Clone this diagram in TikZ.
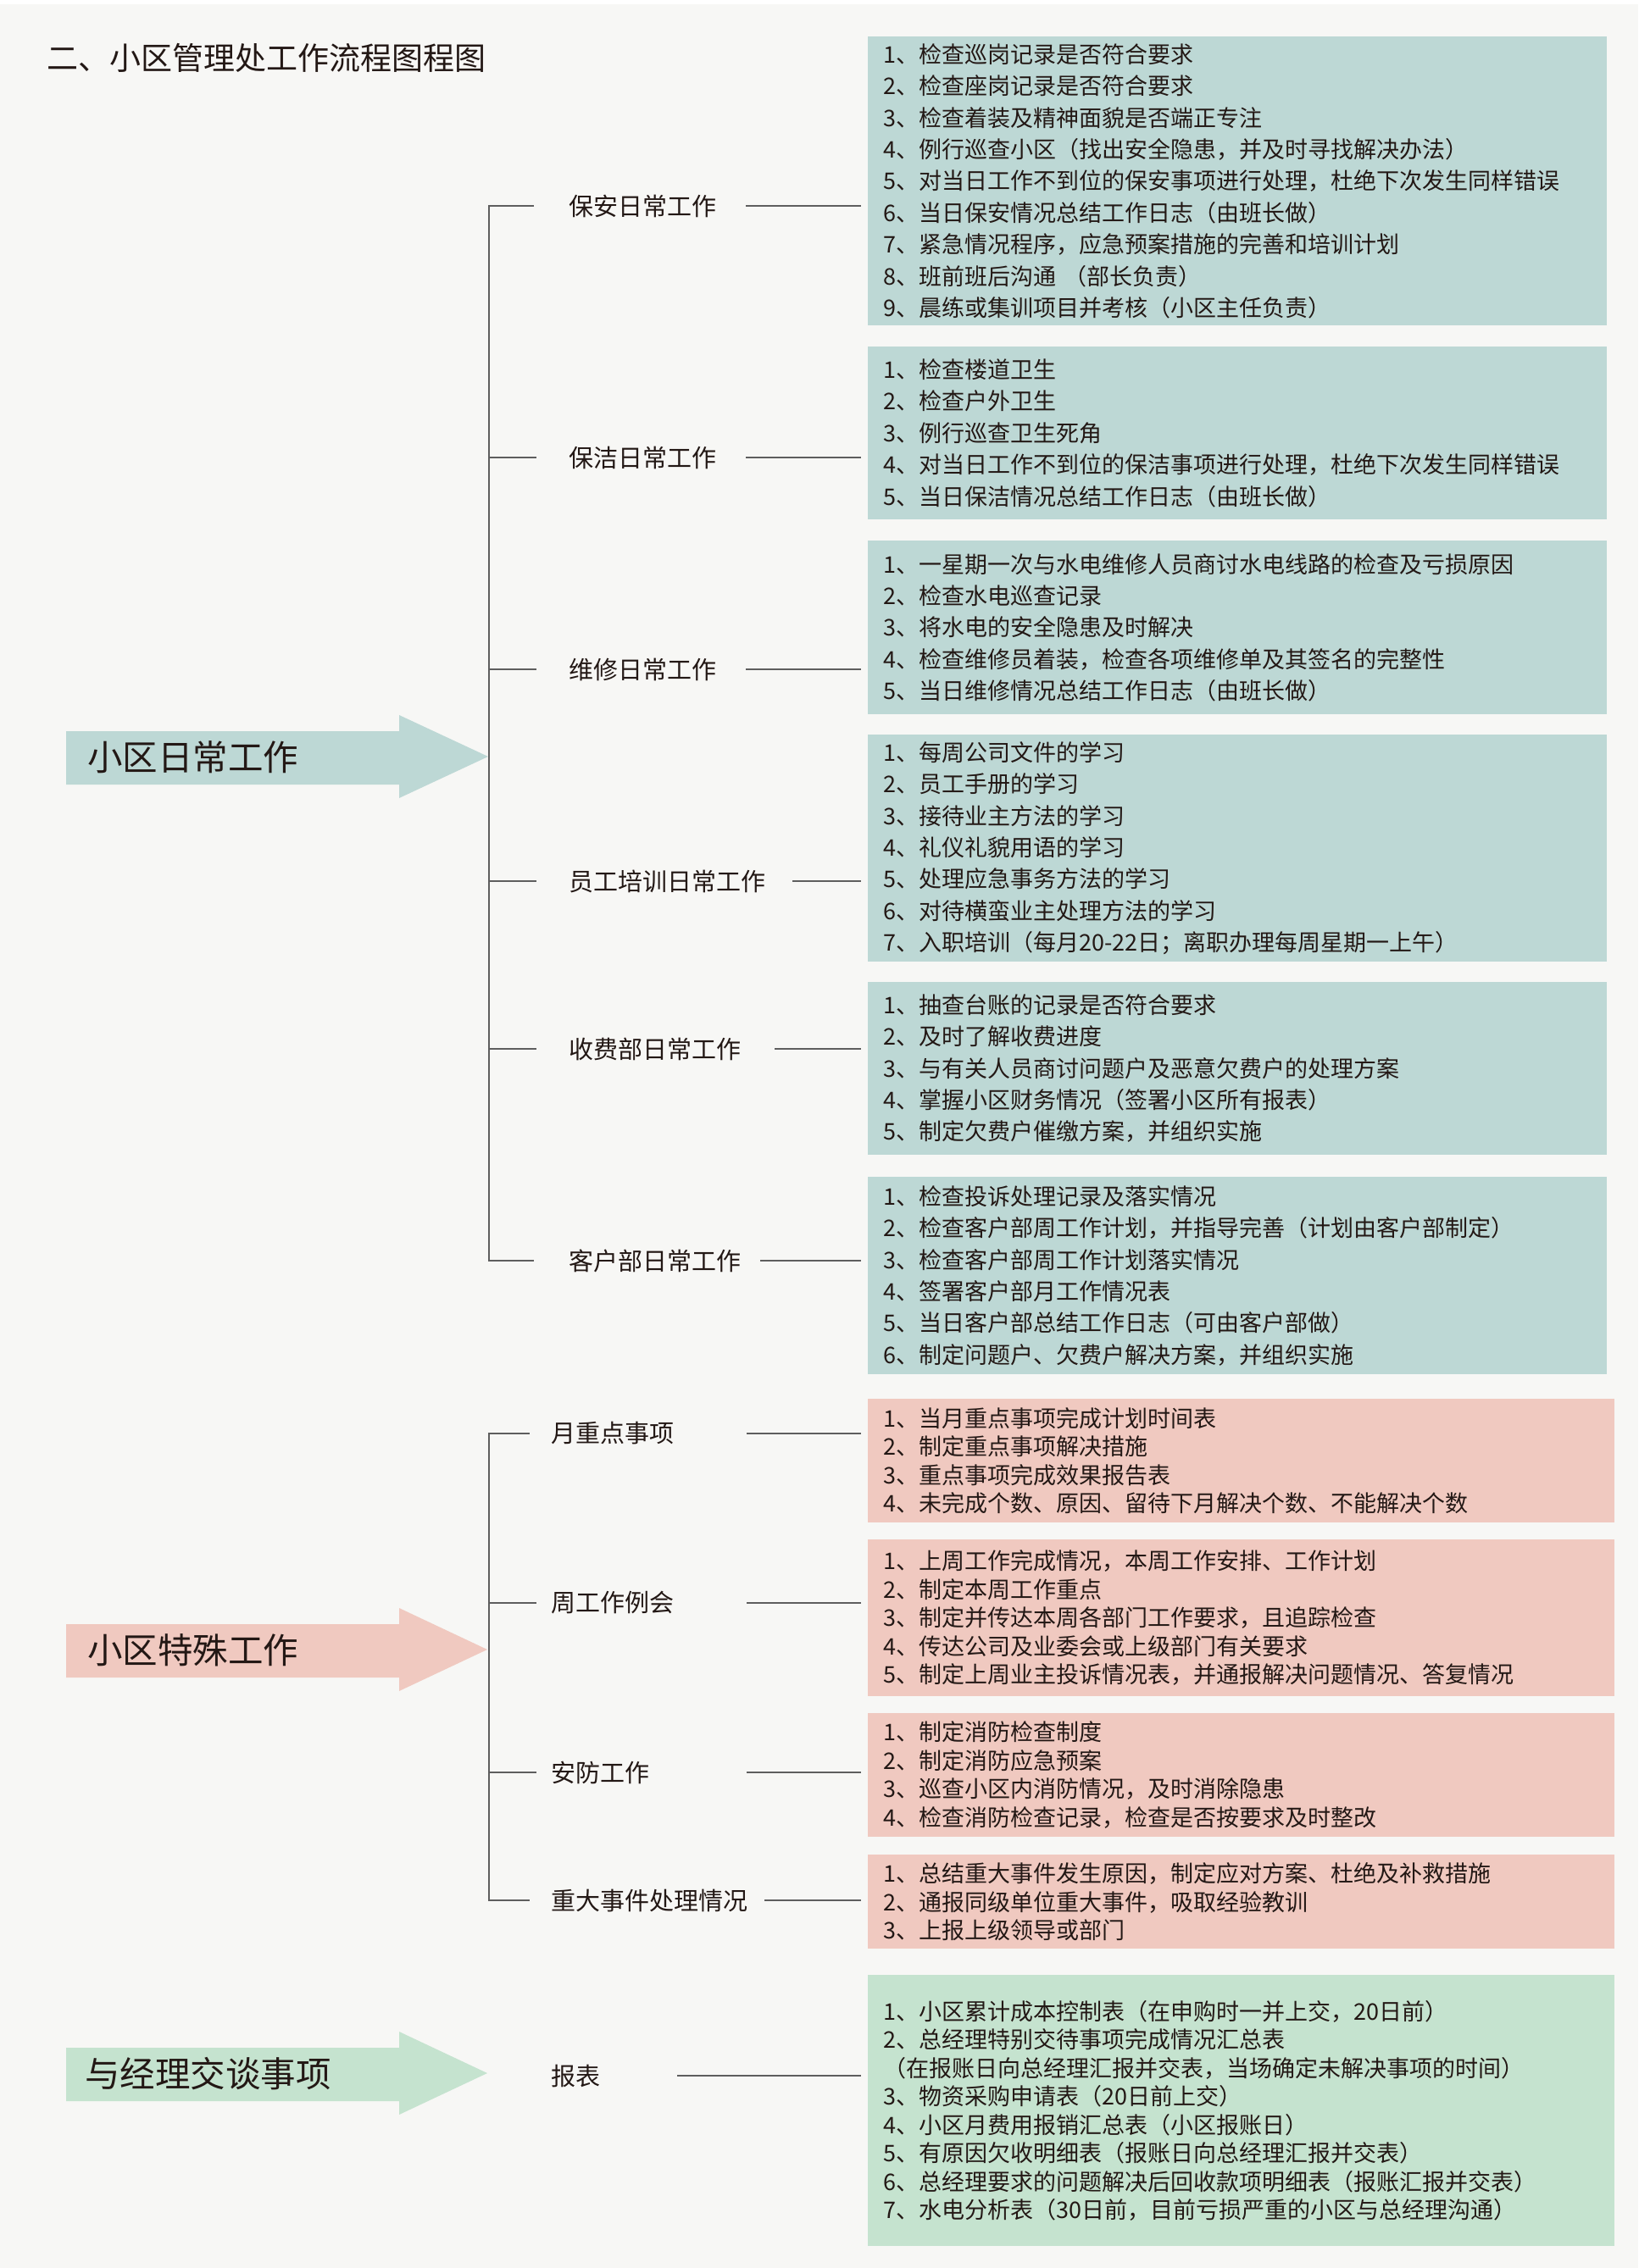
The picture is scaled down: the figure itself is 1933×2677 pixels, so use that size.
\documentclass[tikz,border=0pt]{standalone}
\usepackage{fontspec}
\setmainfont{Noto Sans CJK SC}
\definecolor{pagegray}{HTML}{F7F7F5}
\definecolor{tealbox}{HTML}{BDD8D5}
\definecolor{pinkbox}{HTML}{F0C9C0}
\definecolor{greenbox}{HTML}{C5E3CF}
\definecolor{inkdark}{HTML}{231815}
\definecolor{linegray}{HTML}{5E5E5E}
\lineskiplimit=-50pt
\tikzset{
	itembox/.style={anchor=north west, inner xsep=18pt, inner ysep=0pt, text width=836pt, align=left, minimum height=#1, fill=tealbox, text=inkdark, font=\fontsize{27}{37.4}\selectfont},
	pinkitems/.style={itembox=#1, text width=845pt, fill=pinkbox, font=\fontsize{27}{33.5}\selectfont},
	greenitems/.style={pinkitems=#1, fill=greenbox},
	tasklabel/.style={anchor=west, inner sep=0pt, text=inkdark, font=\fontsize{29}{29}\selectfont},
	bigtext/.style={anchor=west, inner sep=0pt, text=inkdark, font=\fontsize{41.5}{41.5}\selectfont},
	spine/.style={line width=1.6pt, draw=linegray},
	link/.style={line width=1.4pt, draw=linegray, shorten >=8pt}
}
\begin{document}
\begin{tikzpicture}[x=1pt,y=-1pt]
			%%%%% START %%%%%
			
			\useasboundingbox (0,0) rectangle (1933,2677);
			\fill[white] (0,0) rectangle (1933,2677);
			\fill[pagegray] (0,5) rectangle (1933,2677);
			
			\node[anchor=west, inner sep=0pt, text=inkdark, font=\fontsize{37}{37}\selectfont] (title) at (55, 68) {二、小区管理处工作流程图程图};
			
			\fill[tealbox] (78,863) -- (471,863) -- (471,844) -- (576,893) -- (471,942) -- (471,926) -- (78,926) -- cycle;
			\node[bigtext] (daily) at (103, 894) {小区日常工作};
			
			\fill[pinkbox] (78,1917) -- (471,1917) -- (471,1898) -- (575,1947) -- (471,1996) -- (471,1980) -- (78,1980) -- cycle;
			\node[bigtext] (special) at (103, 1948) {小区特殊工作};
			
			\fill[greenbox] (78,2417) -- (471,2417) -- (471,2398) -- (575,2447) -- (471,2496) -- (471,2480) -- (78,2480) -- cycle;
			\node[bigtext] (manager) at (100, 2448) {与经理交谈事项};
			
			\node[itembox=341pt] (box1) at (1024, 43) {1、检查巡岗记录是否符合要求\\2、检查座岗记录是否符合要求\\3、检查着装及精神面貌是否端正专注\\4、例行巡查小区（找出安全隐患，并及时寻找解决办法）\\5、对当日工作不到位的保安事项进行处理，杜绝下次发生同样错误\\6、当日保安情况总结工作日志（由班长做）\\7、紧急情况程序，应急预案措施的完善和培训计划\\8、班前班后沟通\ （部长负责）\\9、晨练或集训项目并考核（小区主任负责）};
			\node[itembox=204pt] (box2) at (1024, 409) {1、检查楼道卫生\\2、检查户外卫生\\3、例行巡查卫生死角\\4、对当日工作不到位的保洁事项进行处理，杜绝下次发生同样错误\\5、当日保洁情况总结工作日志（由班长做）};
			\node[itembox=205pt] (box3) at (1024, 638) {1、一星期一次与水电维修人员商讨水电线路的检查及亏损原因\\2、检查水电巡查记录\\3、将水电的安全隐患及时解决\\4、检查维修员着装，检查各项维修单及其签名的完整性\\5、当日维修情况总结工作日志（由班长做）};
			\node[itembox=268pt] (box4) at (1024, 867) {1、每周公司文件的学习\\2、员工手册的学习\\3、接待业主方法的学习\\4、礼仪礼貌用语的学习\\5、处理应急事务方法的学习\\6、对待横蛮业主处理方法的学习\\7、入职培训（每月20-22日；离职办理每周星期一上午）};
			\node[itembox=204pt] (box5) at (1024, 1159) {1、抽查台账的记录是否符合要求\\2、及时了解收费进度\\3、与有关人员商讨问题户及恶意欠费户的处理方案\\4、掌握小区财务情况（签署小区所有报表）\\5、制定欠费户催缴方案，并组织实施};
			\node[itembox=233pt] (box6) at (1024, 1389) {1、检查投诉处理记录及落实情况\\2、检查客户部周工作计划，并指导完善（计划由客户部制定）\\3、检查客户部周工作计划落实情况\\4、签署客户部月工作情况表\\5、当日客户部总结工作日志（可由客户部做）\\6、制定问题户、欠费户解决方案，并组织实施};
			
			\node[pinkitems=146pt] (box7) at (1024, 1651) {1、当月重点事项完成计划时间表\\2、制定重点事项解决措施\\3、重点事项完成效果报告表\\4、未完成个数、原因、留待下月解决个数、不能解决个数};
			\node[pinkitems=185pt] (box8) at (1024, 1817) {1、上周工作完成情况，本周工作安排、工作计划\\2、制定本周工作重点\\3、制定并传达本周各部门工作要求，且追踪检查\\4、传达公司及业委会或上级部门有关要求\\5、制定上周业主投诉情况表，并通报解决问题情况、答复情况};
			\node[pinkitems=146pt] (box9) at (1024, 2022) {1、制定消防检查制度\\2、制定消防应急预案\\3、巡查小区内消防情况，及时消除隐患\\4、检查消防检查记录，检查是否按要求及时整改};
			\node[pinkitems=111pt] (box10) at (1024, 2189) {1、总结重大事件发生原因，制定应对方案、杜绝及补救措施\\2、通报同级单位重大事件，吸取经验教训\\3、上报上级领导或部门};
			
			\node[greenitems=320pt] (box11) at (1024, 2331) {1、小区累计成本控制表（在申购时一并上交，20日前）\\2、总经理特别交待事项完成情况汇总表\\（在报账日向总经理汇报并交表，当场确定未解决事项的时间）\\3、物资采购申请表（20日前上交）\\4、小区月费用报销汇总表（小区报账日）\\5、有原因欠收明细表（报账日向总经理汇报并交表）\\6、总经理要求的问题解决后回收款项明细表（报账汇报并交表）\\7、水电分析表（30日前，目前亏损严重的小区与总经理沟通）};
			
			\node[tasklabel] (lab1) at (671, 243) {保安日常工作};
			\node[tasklabel] (lab2) at (671, 540) {保洁日常工作};
			\node[tasklabel] (lab3) at (671, 790) {维修日常工作};
			\node[tasklabel] (lab4) at (671, 1040) {员工培训日常工作};
			\node[tasklabel] (lab5) at (671, 1238) {收费部日常工作};
			\node[tasklabel] (lab6) at (671, 1488) {客户部日常工作};
			
			\node[tasklabel] (lab7) at (650, 1692) {月重点事项};
			\node[tasklabel] (lab8) at (650, 1892) {周工作例会};
			\node[tasklabel] (lab9) at (650, 2092) {安防工作};
			\node[tasklabel] (lab10) at (650, 2243) {重大事件处理情况};
			
			\node[tasklabel] (lab11) at (650, 2450) {报表};
			
			\coordinate (spineA) at (577, 893);
			\coordinate (spineB) at (577, 1947);
			
			\draw[spine, shorten <=41pt, shorten >=41pt] (lab1.west) -- (spineA |- lab1.west) -- (spineA |- lab6.west) -- (lab6.west);
			\draw[spine, shorten >=38pt] (spineA |- lab2.west) -- (lab2.west);
			\draw[spine, shorten >=38pt] (spineA |- lab3.west) -- (lab3.west);
			\draw[spine, shorten >=38pt] (spineA |- lab4.west) -- (lab4.west);
			\draw[spine, shorten >=38pt] (spineA |- lab5.west) -- (lab5.west);
			
			\draw[spine, shorten <=25pt, shorten >=25pt] (lab7.west) -- (spineB |- lab7.west) -- (spineB |- lab10.west) -- (lab10.west);
			\draw[spine, shorten >=17pt] (spineB |- lab8.west) -- (lab8.west);
			\draw[spine, shorten >=17pt] (spineB |- lab9.west) -- (lab9.west);
			
			\draw[link, shorten <=35pt] (lab1.east) -- (lab1.east -| box1.west);
			\draw[link, shorten <=35pt] (lab2.east) -- (lab2.east -| box2.west);
			\draw[link, shorten <=35pt] (lab3.east) -- (lab3.east -| box3.west);
			\draw[link, shorten <=32pt] (lab4.east) -- (lab4.east -| box4.west);
			\draw[link, shorten <=40pt] (lab5.east) -- (lab5.east -| box5.west);
			\draw[link, shorten <=23pt] (lab6.east) -- (lab6.east -| box6.west);
			
			\draw[link, shorten <=86pt] (lab7.east) -- (lab7.east -| box7.west);
			\draw[link, shorten <=86pt] (lab8.east) -- (lab8.east -| box8.west);
			\draw[link, shorten <=115pt] (lab9.east) -- (lab9.east -| box9.west);
			\draw[link, shorten <=20pt] (lab10.east) -- (lab10.east -| box10.west);
			
			\draw[link, shorten <=91pt] (lab11.east) -- (lab11.east -| box11.west);
			
			%%%%% END %%%%%
\end{tikzpicture}
\end{document}
